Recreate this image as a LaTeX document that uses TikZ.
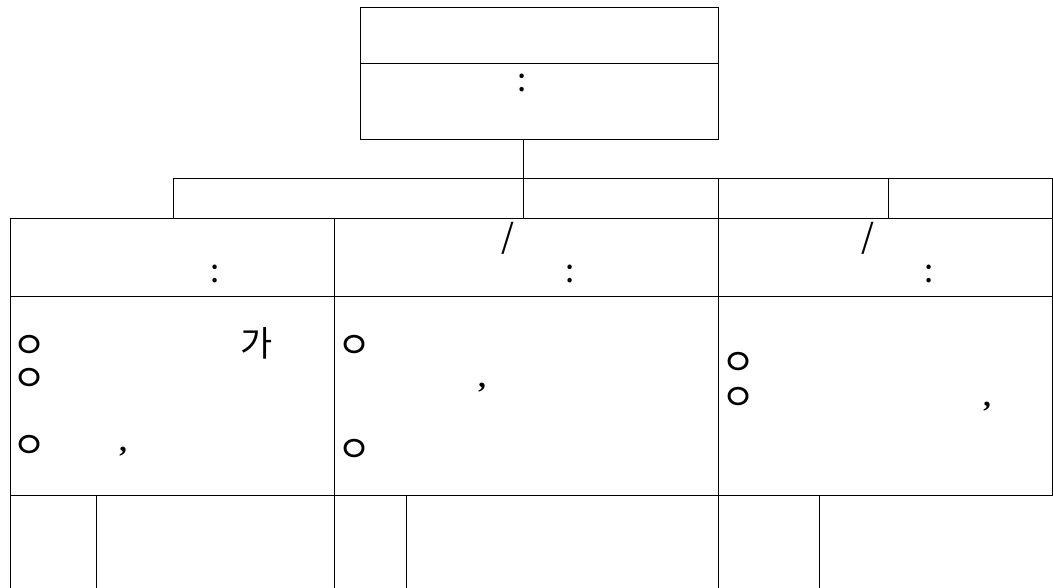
\documentclass[tikz,border=0pt]{standalone}
\usepackage{fontspec}
\newfontfamily\kr{Noto Sans CJK KR}
\newfontfamily\serifc{Liberation Serif}
\begin{document}
\begin{tikzpicture}[x=1pt,y=-1pt,
  cell/.style={draw, line width=1pt, inner sep=0pt, outer sep=0pt, anchor=north west},
  txt/.style={inner sep=0pt, font=\kr\fontsize{33}{36}\selectfont},
  hanf/.style={inner sep=0pt, font=\kr\fontsize{35}{38}\selectfont},
  bul/.style={inner sep=0pt, font=\kr\fontsize{37}{40}\selectfont, text height=0.76em, text depth=0pt},
  cma/.style={inner sep=0pt, font=\serifc\bfseries\fontsize{30}{34}\selectfont},
  link/.style={draw, line width=1pt}]
\useasboundingbox (0,0) rectangle (1053,587);
\clip (0,0) rectangle (1053,587);
% top box
\node[cell, minimum width=358pt, minimum height=56pt] (top1) at (360,7) {};
\node[cell, minimum width=358pt, minimum height=76pt] (top2) at (360,63) {};
\node[txt] (tc) at (522,83) {:};
% strip
\node[cell, minimum width=350pt, minimum height=40pt] (s1) at (173,178) {};
\node[cell, minimum width=195pt, minimum height=40pt] (s2) at (523,178) {};
\node[cell, minimum width=170pt, minimum height=40pt] (s3) at (718,178) {};
\node[cell, minimum width=164pt, minimum height=40pt] (s4) at (888,178) {};
\draw[link] (s1.north east) -- (s1.north east |- top2.south);
% header row
\node[cell, minimum width=324pt, minimum height=78pt] (h1) at (10,218) {};
\node[cell, minimum width=384pt, minimum height=78pt] (h2) at (334,218) {};
\node[cell, minimum width=334pt, minimum height=78pt] (h3) at (718,218) {};
% content row
\node[cell, minimum width=324pt, minimum height=199pt] (c1) at (10,296) {};
\node[cell, minimum width=384pt, minimum height=199pt] (c2) at (334,296) {};
\node[cell, minimum width=334pt, minimum height=199pt] (c3) at (718,296) {};
% bottom row
\node[cell, minimum width=86pt, minimum height=110pt] (b1) at (10,495) {};
\node[cell, minimum width=238pt, minimum height=110pt] (b2) at (96,495) {};
\node[cell, minimum width=72pt, minimum height=110pt] (b3) at (334,495) {};
\node[cell, minimum width=312pt, minimum height=110pt] (b4) at (406,495) {};
\node[cell, minimum width=101pt, minimum height=110pt] (b5) at (718,495) {};
\node[cell, minimum width=234pt, minimum height=110pt] (b6) at (819,495) {};
% header texts
\node[txt] (h1c) at (215,274) {:};
\node[txt] (h2s) at (508,238) {/};
\node[txt] (h2c) at (570,274) {:};
\node[txt] (h3s) at (868,238) {/};
\node[txt] (h3c) at (929,274) {:};
% content texts
\node[bul] (a1) at (30,355) {ㅇ};
\node[hanf] (a2) at (257,343) {가};
\node[bul] (a3) at (30,388) {ㅇ};
\node[bul] (a4) at (30,455) {ㅇ};
\node[cma] (a5) at (123,452) {,};
\node[bul] (m1) at (355,355) {ㅇ};
\node[cma] (m2) at (482,388) {,};
\node[bul] (m3) at (355,459) {ㅇ};
\node[bul] (r1) at (739,372) {ㅇ};
\node[bul] (r2) at (739,407) {ㅇ};
\node[cma] (r3) at (987,407) {,};
\end{tikzpicture}
\end{document}
